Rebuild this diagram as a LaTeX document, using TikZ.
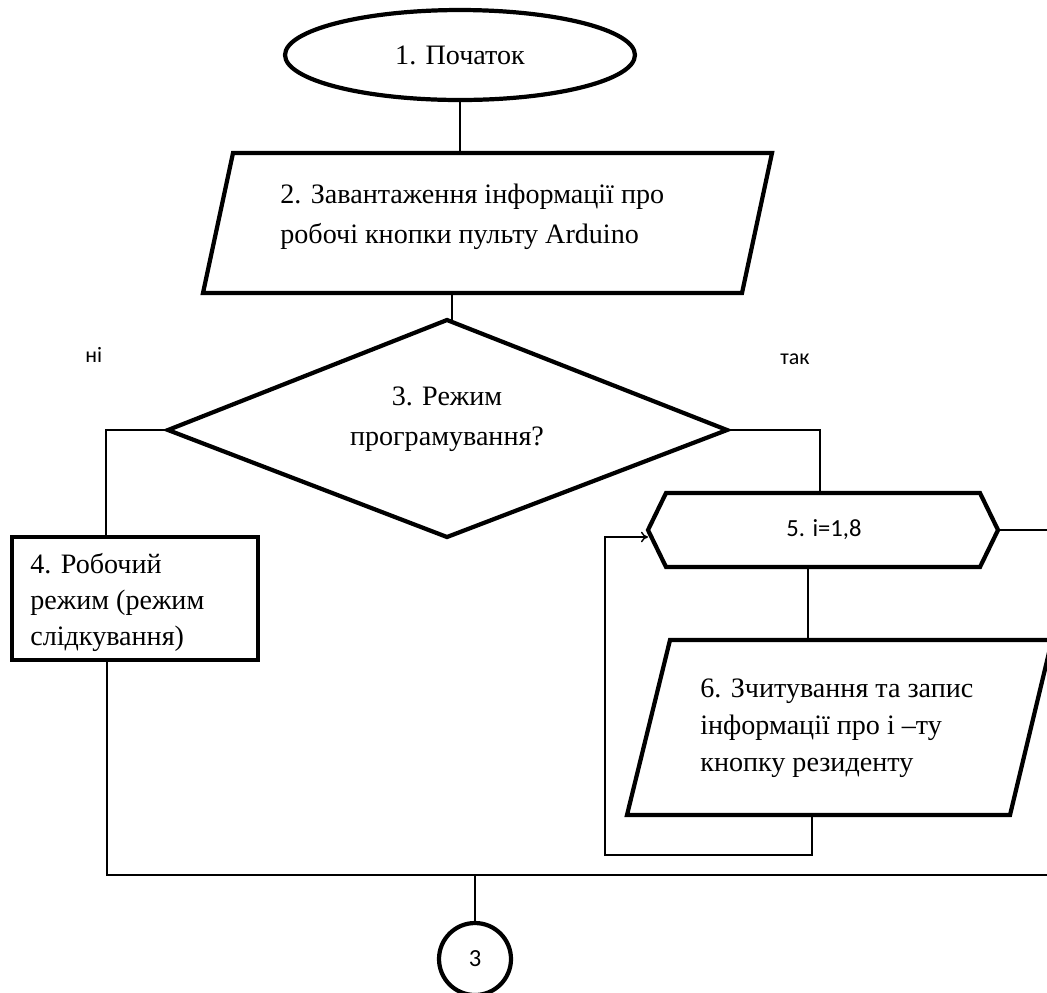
\documentclass[tikz,border=0pt]{standalone}
\usepackage{fontspec}
\setmainfont{Liberation Serif}
\newfontfamily\calib{Carlito}
\usetikzlibrary{arrows.meta,shapes.geometric}
\begin{document}
\begin{tikzpicture}[x=0.02cm,y=-0.02cm,
  shapeline/.style={line width=2.4pt, line join=miter},
  conn/.style={line width=0.8pt},
  lbl/.style={font=\fontsize{16}{22.5}\selectfont, align=left, inner sep=0pt},
  sans/.style={font=\calib\fontsize{12.5}{15}\selectfont, inner sep=0pt}]
\useasboundingbox (0,0) rectangle (1047,992);
\fill[white] (0,0) rectangle (1047,992);

% 1. terminator
\node[draw, shapeline, ellipse, minimum width=7cm, minimum height=1.8cm, inner sep=0pt,
      font=\fontsize{16}{18}\selectfont] (e1) at (460,55) {1. Початок};

% 2. input parallelogram
\draw[shapeline] (233,153) -- (772,153) -- (742,293) -- (203,293) -- cycle;
\coordinate (p2top) at (460,153);
\coordinate (p2bot) at (452,293);
\node[lbl, anchor=north west] (t2) at (280,184) {2. Завантаження інформації про\\робочі кнопки пульту Arduino};

% 3. decision
\draw[shapeline] (447,320) -- (727,430) -- (447,537) -- (168,430) -- cycle;
\coordinate (d3top) at (452,320);
\coordinate (d3left) at (168,430);
\coordinate (d3right) at (727,430);
\node[lbl, align=center] (t3) at (447,419) {3. Режим\\програмування?};

\node[sans, anchor=base west] (no) at (85,362) {ні};
\node[sans, anchor=base west] (yes) at (780,364) {так};

% 4. process
\draw[shapeline] (12,537) rectangle (258,660);
\coordinate (b4top) at (106,537);
\coordinate (b4bot) at (107,660);
\node[lbl, anchor=north west, font=\fontsize{16}{20.5}\selectfont] (t4) at (30,553) {4. Робочий\\режим (режим\\слідкування)};

% 5. loop hexagon
\draw[shapeline] (648,530) -- (666,493) -- (980,493) -- (998,530) -- (980,567) -- (666,567) -- cycle;
\coordinate (h5top) at (820,493);
\coordinate (h5bot) at (808,567);
\coordinate (h5left) at (648,537);
\coordinate (h5right) at (998,530);
\node[sans, font=\calib\fontsize{14}{16}\selectfont] (t5) at (824,530) {5. i=1,8};

% 6. input parallelogram
\draw[shapeline] (670,640) -- (1052,640) -- (1010,815) -- (627,815) -- cycle;
\coordinate (p6top) at (808,640);
\coordinate (p6bot) at (812,815);
\node[lbl, anchor=north west, font=\fontsize{16}{20.8}\selectfont] (t6) at (700,679) {6. Зчитування та запис\\інформації про і –ту\\кнопку резиденту};

% connector 3
\node[draw, shapeline, circle, minimum size=1.44cm, inner sep=0pt, font=\calib\fontsize{14}{16}\selectfont] (c3) at (475,959) {3};

% coordinates for bends
\coordinate (nl) at (106,430);
\coordinate (yr) at (820,430);
\coordinate (hr) at (1050,530);
\coordinate (lp1) at (812,855);
\coordinate (lp2) at (605,855);
\coordinate (lp3) at (605,537);
\coordinate (jl) at (107,875);
\coordinate (jm) at (475,875);
\coordinate (jr) at (1050,875);

% connectors
\draw[conn] (e1.south) -- (p2top);
\draw[conn] (p2bot) -- (d3top);
\draw[conn] (d3left) -- (nl) -- (b4top);
\draw[conn] (d3right) -- (yr) -- (h5top);
\draw[conn] (h5right) -- (hr);
\draw[conn] (h5bot) -- (p6top);
\draw[conn, -{To[length=4pt,width=6pt]}] (p6bot) -- (lp1) -- (lp2) -- (lp3) -- (h5left);
\draw[conn] (b4bot) -- (jl) -- (jr);
\draw[conn] (jm) -- (c3.north);
\end{tikzpicture}
\end{document}
